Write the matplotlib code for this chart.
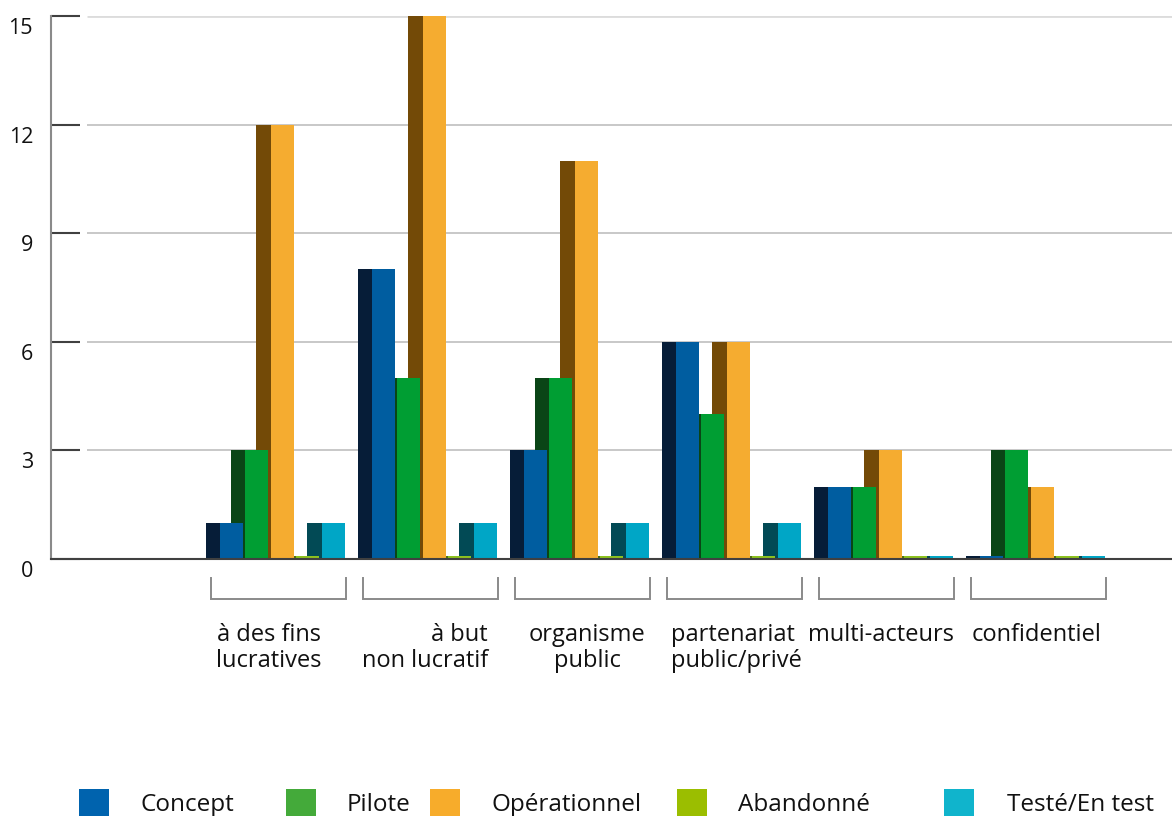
import matplotlib
matplotlib.use("Agg")
import matplotlib.pyplot as plt
import matplotlib.transforms as mtransforms
from matplotlib.patches import Rectangle
import numpy as np

# ---------------- data ----------------
categories = ["à des fins\nlucratives", "à but\nnon lucratif", "organisme\npublic",
              "partenariat\npublic/privé", "multi-acteurs", "confidentiel"]
series = ["Concept", "Pilote", "Opérationnel", "Abandonné", "Testé/En test"]
concept      = [1, 8, 3, 6, 2, 0]
pilote       = [3, 5, 5, 4, 2, 3]
operationnel = [12, 15, 11, 6, 3, 2]
abandonne    = [0, 0, 0, 0, 0, 0]
teste        = [1, 1, 1, 1, 0, 0]
yticks = [0, 3, 6, 9, 12, 15]

values = [concept, pilote, operationnel, abandonne, teste]
front_colors = ["#005DA0", "#009E33", "#F5AC30", "#8DC21F", "#00A6C6"]
side_colors = ["#061D38", "#0A4516", "#734A07", "#4F6E10", "#024A55"]
legend_colors = ["#0063AE", "#44AA3A", "#F7AC2B", "#9BBE00", "#10B4CC"]

# ---------------- figure ----------------
W, H = 1172, 816
plt.rcParams['font.family'] = ['Open Sans', 'DejaVu Sans']
fig = plt.figure(figsize=(W / 100, H / 100), dpi=100)

ax_l, ax_r, ax_t, ax_b = 51, 1172, 16, 559
ax = fig.add_axes([ax_l / W, (H - ax_b) / H, (ax_r - ax_l) / W, (ax_b - ax_t) / H])

pitch = 152.0          # px per category
c0 = 124.0             # px of category index 0
ppu = (ax_b - ax_t) / 15.0


def X(px):
    return (px - c0) / pitch


def Y(py):
    return (ax_b - py) / ppu


ax.set_xlim(X(ax_l), X(ax_r))
ax.set_ylim(0, 15)

pos = np.arange(1, len(categories) + 1)
front_w = 23.0 / pitch
side_w = 14.5 / pitch
step = 25.4 / pitch
first = -56.0 / pitch
min_h = 0.08

for k, vals in enumerate(values):
    v = np.maximum(np.array(vals, dtype=float), min_h)
    left = pos + first + k * step
    ax.bar(left - side_w, v, width=side_w + 0.5 / pitch, align='edge',
           color=side_colors[k], linewidth=0, zorder=2)
    ax.bar(left, v, width=front_w, align='edge',
           color=front_colors[k], linewidth=0, zorder=3)

# gridlines
for t in yticks[1:]:
    col = '#dcdcdc' if t == 15 else '#c4c4c4'
    lw = 2.0 if t == 15 else 1.3
    ax.hlines(t, X(87), X(ax_r), color=col, lw=lw, zorder=1)

ax.spines['top'].set_visible(False)
ax.spines['right'].set_visible(False)
ax.spines['left'].set_color('#8a8a8a')
ax.spines['left'].set_linewidth(1.5)
ax.spines['bottom'].set_color('#404040')
ax.spines['bottom'].set_linewidth(1.5)
ax.spines['bottom'].set_zorder(4)

ax.set_xticks([])
ax.set_yticks(yticks)
ax.set_yticklabels([str(t) for t in yticks])
ax.tick_params(axis='y', direction='in', length=29 * 0.72, width=1.5,
               color='#404040', pad=13, labelsize=15.5, labelcolor='#111111')
off = mtransforms.ScaledTranslation(0, -10 / 100, fig.dpi_scale_trans)
for lab in ax.get_yticklabels():
    lab.set_transform(lab.get_transform() + off)

# category brackets
for i in pos:
    xl = i + (-65.0) / pitch
    xr = i + (69.5) / pitch
    yt, yb = Y(578), Y(599)
    ax.plot([xl, xl, xr, xr], [yt, yb, yb, yt], color='#8a8a8a', lw=1.4,
            clip_on=False, solid_joinstyle='miter')

# category labels (px anchor, alignment)
label_layout = [(269, 'center'), (488, 'right'), (587, 'center'),
                (671, 'left'), (808, 'left'), (972, 'left')]
for name, (px, ha) in zip(categories, label_layout):
    ax.text(X(px), Y(623), name, ha=ha, va='top', fontsize=17,
            color='#111111', linespacing=1.12, clip_on=False,
            multialignment=ha)

# legend (manual, bottom row)
sq_x = [79, 286, 430, 677, 944]
tx_x = [140, 347, 492, 738, 1007]
for name, col, sx, tx in zip(series, legend_colors, sq_x, tx_x):
    fig.patches.append(Rectangle((sx / W, (H - 820) / H), 30 / W, 31 / H,
                                 transform=fig.transFigure, color=col, lw=0))
    fig.text(tx / W, (H - 811) / H, name, ha='left', va='baseline',
             fontsize=17.5, color='#111111')

fig.savefig("out.png", dpi=100)
